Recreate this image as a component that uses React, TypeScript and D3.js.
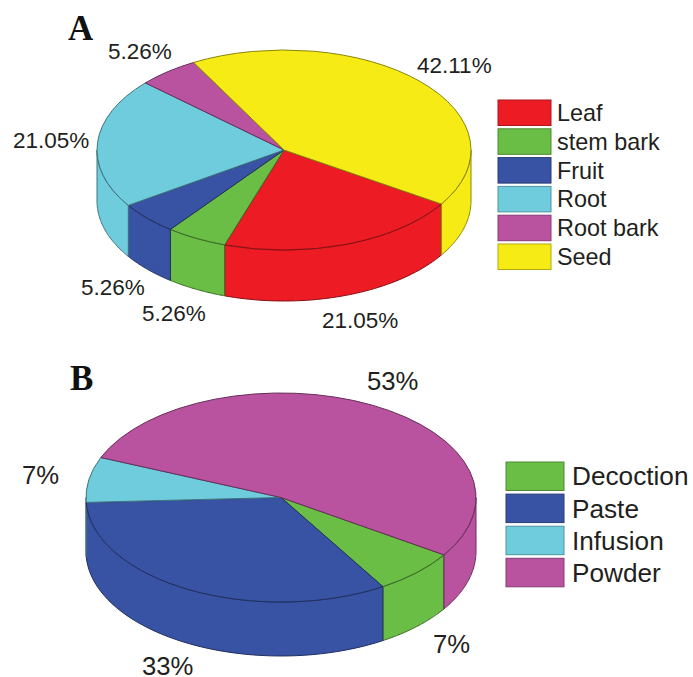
import React from "react";
import * as d3 from "d3";

// Plant part used (percent of species) and preparation method (percent).
const partNames = ["Leaf", "stem bark", "Fruit", "Root", "Root bark", "Seed"];
const partValues = [21.05, 5.26, 5.26, 21.05, 5.26, 42.11];
const partColors = ["#ED1C24", "#6ABD45", "#3953A4", "#6ECCDD", "#B9529F", "#F6EB14"];

const methodNames = ["Decoction", "Paste", "Infusion", "Powder"];
const methodValues = [7, 33, 7, 53];
const methodColors = ["#6ABD45", "#3953A4", "#6ECCDD", "#B9529F"];

// Disc geometry for each panel: centre, radii, extrusion depth, first slice angle in degrees.
const discA = { cx: 284, cy: 150, rx: 187, ry: 100, depth: 51, start: 122.7 };
const discB = { cx: 281, cy: 497.5, rx: 195, ry: 104.5, depth: 54, start: 123.3 };

// Where each percentage label sits (left edge, baseline), in slice order.
const labelSpotsA: [number, number][] = [[322, 328], [142, 320.5], [81, 295], [13, 148], [108, 59], [417, 73]];
const labelSpotsB: [number, number][] = [[433, 652.5], [142, 675], [22, 484], [367, 390]];

const legendA = { x: 498, y: 100, w: 53, h: 25.5, step: 28.8, textX: 557, size: 23.4 };
const legendB = { x: 506, y: 462, w: 58, h: 28.5, step: 32.1, textX: 572, size: 26.2 };

const SANS = "'Liberation Sans', Arial, sans-serif";
const SERIF = "'Liberation Serif', 'Times New Roman', serif";
const rad = Math.PI / 180;

type Disc = typeof discA;

function Disc3D({ disc, values, colors }: { disc: Disc; values: number[]; colors: string[] }) {
  const { cx, cy, rx, ry, depth, start } = disc;
  const slices = d3
    .pie<number>()
    .sort(null)
    .startAngle(start * rad)
    .endAngle(start * rad + 2 * Math.PI)(values);

  const rim = (a: number, dy = 0): [number, number] => [
    cx + rx * Math.sin(a),
    cy - ry * Math.cos(a) + dy,
  ];
  const line = d3.line();
  const arc = d3.arc<d3.PieArcDatum<number>>().innerRadius(0).outerRadius(rx);

  // Only the part of the rim between 90 and 270 degrees faces the viewer.
  const front: { key: string; d: string; i: number }[] = [];
  slices.forEach((s, i) => {
    [0, 2 * Math.PI].forEach((turn) => {
      const a0 = Math.max(s.startAngle, Math.PI / 2 + turn);
      const a1 = Math.min(s.endAngle, (3 * Math.PI) / 2 + turn);
      if (a1 <= a0) return;
      const steps = d3.range(0, 49).map((k) => a0 + ((a1 - a0) * k) / 48);
      const pts = [...steps.map((a) => rim(a)), ...steps.slice().reverse().map((a) => rim(a, depth))];
      front.push({ key: `${i}-${turn}`, d: line(pts) + "Z", i });
    });
  });

  const edge = (c: string) => d3.color(c)!.darker(1.6).formatHex();

  return (
    <g>
      {front.map((f) => (
        <path key={f.key} d={f.d} fill={colors[f.i]} stroke={edge(colors[f.i])} strokeWidth={1} strokeLinejoin="round" />
      ))}
      <g transform={`translate(${cx},${cy}) scale(1,${ry / rx})`}>
        {slices.map((s, i) => (
          <path
            key={i}
            d={arc(s)!}
            fill={colors[i]}
            stroke={edge(colors[i])}
            strokeWidth={1}
            strokeLinejoin="round"
            vectorEffect="non-scaling-stroke"
          />
        ))}
      </g>
    </g>
  );
}

function Legend({ names, colors, cfg }: { names: string[]; colors: string[]; cfg: typeof legendA }) {
  return (
    <g>
      {names.map((n, i) => {
        const y = cfg.y + i * cfg.step;
        return (
          <g key={n}>
            <rect
              x={cfg.x}
              y={y}
              width={cfg.w}
              height={cfg.h}
              fill={colors[i]}
              stroke={d3.color(colors[i])!.darker(0.9).formatHex()}
              strokeWidth={1}
            />
            <text
              x={cfg.textX}
              y={y + cfg.h / 2 + cfg.size * 0.35}
              fontFamily={SANS}
              fontSize={cfg.size}
              fill="#231F20"
            >
              {n}
            </text>
          </g>
        );
      })}
    </g>
  );
}

function Labels({ values, spots, size }: { values: number[]; spots: [number, number][]; size: number }) {
  return (
    <g>
      {values.map((v, i) => (
        <text key={i} x={spots[i][0]} y={spots[i][1]} fontFamily={SANS} fontSize={size} fill="#231F20">
          {v}%
        </text>
      ))}
    </g>
  );
}

export default function App() {
  return (
    <svg
      width={693}
      height={677}
      viewBox="0 0 693 677"
      style={{ position: "absolute", left: 0, top: 0, display: "block", background: "#fff" }}
    >
      <text x={68} y={40} fontFamily={SERIF} fontWeight="bold" fontSize={35} fill="#111">A</text>
      <Disc3D disc={discA} values={partValues} colors={partColors} />
      <Labels values={partValues} spots={labelSpotsA} size={22.5} />
      <Legend names={partNames} colors={partColors} cfg={legendA} />

      <text x={70} y={390} fontFamily={SERIF} fontWeight="bold" fontSize={35} fill="#111">B</text>
      <Disc3D disc={discB} values={methodValues} colors={methodColors} />
      <Labels values={methodValues} spots={labelSpotsB} size={25.7} />
      <Legend names={methodNames} colors={methodColors} cfg={legendB} />
    </svg>
  );
}
